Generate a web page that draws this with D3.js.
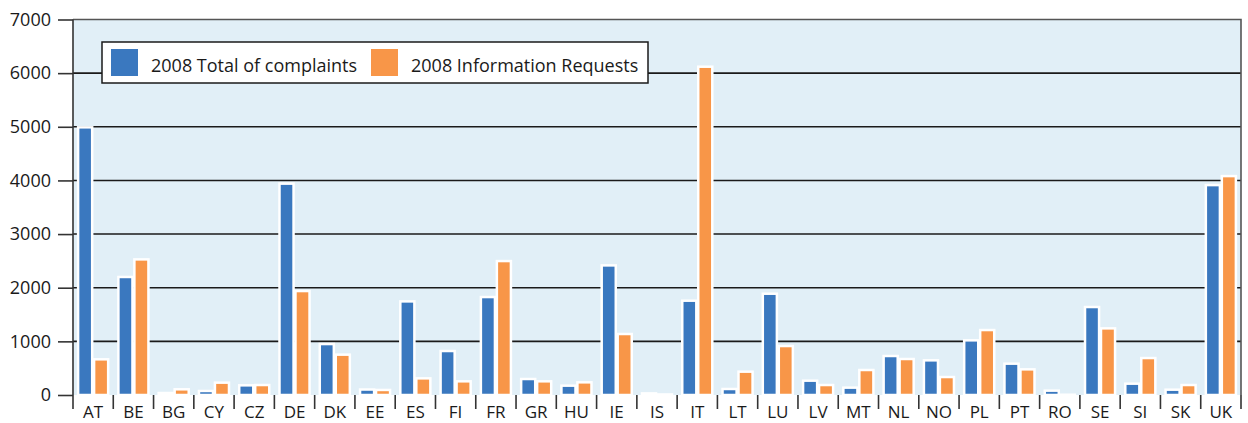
<!DOCTYPE html>
<html>
<head>
<meta charset="utf-8">
<script src="https://cdn.jsdelivr.net/npm/d3@7"></script>
<style>
	body { margin: 0; background: #fff; overflow: hidden; }
	svg { display: block; }
	text { font-family: "Open Sans", sans-serif; fill: #1a1a1a; }
</style>
</head>
<body>
<div id="chart"></div>
<script>

var countries = ['AT','BE','BG','CY','CZ','DE','DK','EE','ES','FI','FR','GR','HU','IE','IS','IT','LT','LU','LV','MT','NL','NO','PL','PT','RO','SE','SI','SK','UK'];
var complaints = [4990, 2200, 37, 75, 180, 3940, 950, 102, 1745, 820, 1826, 298, 174, 2416, 30, 1758, 112, 1888, 267, 137, 727, 646, 1019, 584, 81, 1640, 211, 99, 3913];
var requests = [665, 2528, 106, 230, 186, 1938, 752, 94, 310, 255, 2497, 255, 236, 1137, 10, 6120, 435, 913, 186, 466, 671, 335, 1211, 478, 5, 1242, 689, 186, 4081];
var seriesNames = ['2008 Total of complaints', '2008 Information Requests'];
var yTicks = [0, 1000, 2000, 3000, 4000, 5000, 6000, 7000];

var svgWidth = 1248;
var svgHeight = 423;
var plotLeft = 73, plotRight = 1241, plotTop = 19.5, plotBottom = 395;

var color = d3.scaleOrdinal().domain(seriesNames).range(['#3a78bf', '#f89648']);

var x0 = d3.scaleBand().domain(countries).range([plotLeft, plotRight]).padding(0);
var x1 = d3.scaleBand().domain([0, 1]).range([0, x0.bandwidth()]).paddingInner(0.12).paddingOuter(0.32);
var y = d3.scaleLinear().domain([0, 7000]).range([plotBottom, plotTop]);

var svg = d3.select('#chart').append('svg')
	.attr('width', svgWidth)
	.attr('height', svgHeight);

// plot background
svg.append('rect')
	.attr('x', plotLeft).attr('y', plotTop)
	.attr('width', plotRight - plotLeft).attr('height', plotBottom - plotTop)
	.style('fill', '#e1eff7');

// grid lines
svg.selectAll('.grid')
	.data(yTicks.slice(1, -1))
	.enter().append('line')
	.attr('x1', plotLeft).attr('x2', plotRight)
	.attr('y1', function(d) { return y(d); })
	.attr('y2', function(d) { return y(d); })
	.style('stroke', '#1a1a1a')
	.style('stroke-width', 1.6);

// top + right border
svg.append('path')
	.attr('d', 'M' + plotLeft + ',' + plotTop + 'H' + plotRight + 'V' + plotBottom)
	.style('fill', 'none')
	.style('stroke', '#555')
	.style('stroke-width', 1.6);

// bars
var data = countries.map(function(c, i) { return {country: c, values: [complaints[i], requests[i]]}; });

var groups = svg.selectAll('.group')
	.data(data)
	.enter().append('g')
	.attr('class', 'group')
	.attr('transform', function(d) { return 'translate(' + x0(d.country) + ',0)'; });

groups.selectAll('rect')
	.data(function(d) { return d.values.map(function(v, k) { return {k: k, v: v}; }); })
	.enter().append('rect')
	.attr('x', function(d) { return x1(d.k); })
	.attr('width', x1.bandwidth())
	.attr('y', function(d) { return y(d.v); })
	.attr('height', function(d) { return plotBottom - y(d.v); })
	.style('fill', function(d) { return color(seriesNames[d.k]); })
	.style('stroke', '#fff')
	.style('stroke-width', 2.5);

// y axis
var yAxis = d3.axisLeft(y).tickValues(yTicks).tickSize(15).tickPadding(7).tickFormat(d3.format('d'));
var ya = svg.append('g')
	.attr('transform', 'translate(' + plotLeft + ',0)')
	.call(yAxis);
ya.select('.domain').remove();
ya.selectAll('line').style('stroke', '#333').style('stroke-width', 1.6);
ya.selectAll('text').style('font-size', '18px').style('fill', '#1a1a1a').style('font-family', '"Open Sans", sans-serif');

svg.append('line')
	.attr('x1', plotLeft).attr('x2', plotLeft)
	.attr('y1', plotTop).attr('y2', 409)
	.style('stroke', '#333').style('stroke-width', 1.6);

// x axis: ticks at category boundaries
var bounds = countries.slice(1).map(function(c) { return x0(c); }).concat([plotRight]);
svg.selectAll('.xtick')
	.data(bounds)
	.enter().append('line')
	.attr('x1', function(d) { return d; }).attr('x2', function(d) { return d; })
	.attr('y1', plotBottom).attr('y2', 409)
	.style('stroke', '#333').style('stroke-width', 1.6);

svg.selectAll('.xlabel')
	.data(countries)
	.enter().append('text')
	.attr('x', function(d) { return x0(d) + x0.bandwidth() / 2; })
	.attr('y', 418)
	.style('text-anchor', 'middle')
	.style('font-size', '17px')
	.text(function(d) { return d; });

// legend
var legend = svg.append('g').attr('transform', 'translate(102,42)');
legend.append('rect')
	.attr('width', 546).attr('height', 41)
	.style('fill', '#fff')
	.style('stroke', '#1a1a1a')
	.style('stroke-width', 1.5);

var legendX = [9, 269];
var item = legend.selectAll('.legend')
	.data(seriesNames)
	.enter().append('g')
	.attr('class', 'legend')
	.attr('transform', function(d, i) { return 'translate(' + legendX[i] + ',7)'; });

item.append('rect')
	.attr('width', 27).attr('height', 27)
	.style('fill', color);

item.append('text')
	.attr('x', 40)
	.attr('y', 22.5)
	.style('font-size', '18px')
	.text(function(d) { return d; });

</script>
</body>
</html>
